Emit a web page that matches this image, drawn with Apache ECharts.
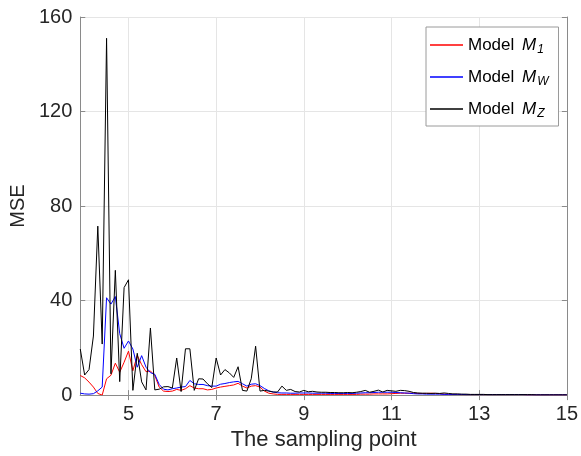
<!DOCTYPE html>
<html>
<head>
<meta charset="utf-8">
<script src="https://cdn.jsdelivr.net/npm/echarts@6/dist/echarts.min.js"></script>
<style>
  html, body { margin: 0; padding: 0; background: #fff; }
  #chart { width: 581px; height: 456px; }
</style>
</head>
<body>
<div id="chart"></div>
<script>
// sampling grid
const xStart = 3.9
const xStep = 0.1
const xTicks = [5, 7, 9, 11, 13, 15]
const yTicks = [0, 40, 80, 120, 160]

// MSE values, one per sampling point
const mseM1 = [
  8.3, 7.3, 5.5, 3.4, 0.7, 0, 6.9, 8.4, 13.5, 9.7,
  13.9, 18.6, 10.3, 16.8, 12.9, 9.9, 10.2, 8.3, 3.4, 1.7,
  1.5, 1.7, 2.4, 2, 2.7, 4, 3, 2.7, 2.7, 2.2,
  2.4, 3, 3.4, 3.7, 4.0, 4.3, 5.0, 3.8, 3, 3.8,
  4, 3.4, 1.7, 0.8, 0.5, 0.3, 0.3, 0.3, 0.3, 0.3,
  0.3, 0.3, 0.3, 0.3, 0.3, 0.3, 0.3, 0.3, 0.3, 0.3,
  0.3, 0.3, 0.3, 0.3, 0.4, 0.4, 0.4, 0.5, 0.5, 0.5,
  0.5, 0.6, 0.7, 0.8, 0.8, 0.8, 0.8, 0.7, 0.7, 0.7,
  0.8, 0.7, 0.6, 0.4, 0.3, 0.3, 0.3, 0.2, 0.2, 0.2,
  0.2, 0.2, 0.2, 0.2, 0.2, 0.2, 0.2, 0.2, 0.2, 0.2,
  0.2, 0.2, 0.1, 0.1, 0.1, 0.1, 0.1, 0.1, 0.1, 0.1,
  0.1, 0.1
]
const mseMW = [
  0.8, 0.5, 0.4, 0.6, 1.8, 3.4, 41.2, 38.5, 41.7, 26,
  19.8, 22.9, 19.5, 11.8, 16.7, 11.8, 9.5, 8.8, 4.5, 2.5,
  2.2, 2.7, 3, 3.4, 3.6, 6.2, 4.8, 4.5, 4.5, 4,
  3.8, 3.8, 4.6, 4.9, 5.3, 5.6, 5.8, 4.8, 3.8, 4.6,
  4.8, 4, 2.8, 1.8, 1.3, 1.0, 0.9, 0.9, 0.8, 0.8,
  0.9, 0.9, 0.9, 0.8, 0.8, 0.8, 0.8, 0.7, 0.7, 0.7,
  0.7, 0.7, 0.7, 0.8, 0.9, 1.0, 1.0, 1.1, 1.2, 1.2,
  1.2, 1.2, 1.1, 1.0, 0.9, 0.8, 0.6, 0.5, 0.5, 0.4,
  0.4, 0.4, 0.4, 0.3, 0.3, 0.3, 0.3, 0.3, 0.2, 0.2,
  0.2, 0.2, 0.2, 0.2, 0.2, 0.2, 0.2, 0.2, 0.2, 0.2,
  0.2, 0.2, 0.1, 0.1, 0.1, 0.1, 0.1, 0.1, 0.1, 0.1,
  0.1, 0.1
]
const mseMZ = [
  19.5, 8.5, 10.8, 25, 71.5, 21.6, 151, 9, 52.8, 5.7,
  45.5, 48.8, 2, 17.7, 5.6, 2.2, 28.4, 2.2, 2.5, 3.5,
  3.6, 3, 15.7, 1.5, 19.6, 19.6, 2, 6.9, 6.8, 4.8,
  3.2, 15.7, 8.5, 10.8, 9.4, 7.5, 12, 2, 1.7, 6.9,
  20.7, 1.7, 2, 1.7, 1.3, 1.3, 3.8, 2, 2.4, 1.5,
  1.3, 2.0, 1.4, 1.6, 1.3, 1.2, 1.2, 1.1, 1.1, 1.0,
  1.0, 1.1, 1.0, 1.2, 1.5, 2.0, 1.2, 1.6, 2.1, 1.3,
  2.0, 1.8, 1.6, 2.0, 1.9, 1.6, 1.1, 0.9, 0.8, 0.8,
  0.7, 0.8, 0.7, 0.9, 0.7, 0.5, 0.5, 0.4, 0.4, 0.3,
  0.3, 0.3, 0.3, 0.2, 0.2, 0.2, 0.2, 0.2, 0.2, 0.2,
  0.2, 0.2, 0.2, 0.2, 0.1, 0.1, 0.1, 0.1, 0.1, 0.1,
  0.1, 0.1
]

const seriesNames = ['M1', 'MW', 'MZ']
const seriesColors = ['#ff0000', '#0000ff', '#000000']
const legendSubs = { M1: '1', MW: 'W', MZ: 'Z' }

const fontFamily = "'Liberation Sans', Arial, Helvetica, sans-serif"
const textColor = '#262626'
const frameColor = '#8a8a8a'

function toPairs(values) {
  return values.map((v, i) => [+(xStart + xStep * i).toFixed(1), v])
}

const myChart = echarts.init(document.getElementById('chart'))

const xMax = 15
const baseX = {
  type: 'value',
  min: xStart,
  max: xMax,
  axisLine: { show: true, lineStyle: { color: frameColor, width: 1 } },
  axisTick: { show: true, inside: true, length: 5, customValues: xTicks, lineStyle: { color: frameColor } },
  splitLine: { show: false }
}
const baseY = {
  type: 'value',
  min: yTicks[0],
  max: yTicks[yTicks.length - 1],
  interval: 40,
  axisLine: { show: true, lineStyle: { color: frameColor, width: 1 } },
  axisTick: { show: true, inside: true, length: 5, lineStyle: { color: frameColor } },
  splitLine: { show: false }
}

myChart.setOption({
  animation: false,
  textStyle: { fontFamily },
  grid: { left: 78, right: 11, top: 17, bottom: 60, containLabel: false },
  xAxis: [
    Object.assign({}, baseX, {
      position: 'bottom',
      name: 'The sampling point',
      nameLocation: 'middle',
      nameGap: 32,
      nameTextStyle: { color: textColor, fontSize: 22, fontFamily },
      axisLabel: { show: true, customValues: xTicks, color: textColor, fontSize: 20, margin: 9, fontFamily },
      splitLine: { show: true, lineStyle: { color: '#e5e5e5', width: 1 } }
    }),
    Object.assign({}, baseX, {
      position: 'top',
      axisLabel: { show: false }
    })
  ],
  yAxis: [
    Object.assign({}, baseY, {
      position: 'left',
      name: 'MSE',
      nameLocation: 'middle',
      nameGap: 47,
      nameTextStyle: { color: textColor, fontSize: 20, fontFamily },
      axisLabel: { show: true, color: textColor, fontSize: 20, margin: 8, fontFamily },
      splitLine: { show: true, lineStyle: { color: '#e5e5e5', width: 1 } }
    }),
    Object.assign({}, baseY, {
      position: 'right',
      axisLabel: { show: false }
    })
  ],
  legend: {
    orient: 'vertical',
    left: 426,
    top: 27,
    padding: [7, 10, 6, 4],
    itemGap: 10,
    itemWidth: 33,
    itemHeight: 1.5,
    icon: 'rect',
    borderColor: '#9a9a9a',
    borderWidth: 1,
    backgroundColor: '#fff',
    data: seriesNames,
    formatter: name => 'Model {it|M}{sub|' + legendSubs[name] + '}',
    textStyle: {
      color: '#000',
      fontSize: 17,
      lineHeight: 22,
      fontFamily,
      rich: {
        it: { fontStyle: 'italic', fontSize: 17, lineHeight: 22, fontFamily, padding: [0, 0, 0, 3] },
        sub: { fontStyle: 'italic', fontSize: 12, lineHeight: 22, fontFamily, padding: [10, 0, 0, 1] }
      }
    }
  },
  series: seriesNames.map((name, k) => ({
    name,
    type: 'line',
    xAxisIndex: 0,
    yAxisIndex: 0,
    showSymbol: false,
    symbol: 'none',
    color: seriesColors[k],
    lineStyle: { color: seriesColors[k], width: 1 },
    data: toPairs([mseM1, mseMW, mseMZ][k])
  }))
})
</script>
</body>
</html>
